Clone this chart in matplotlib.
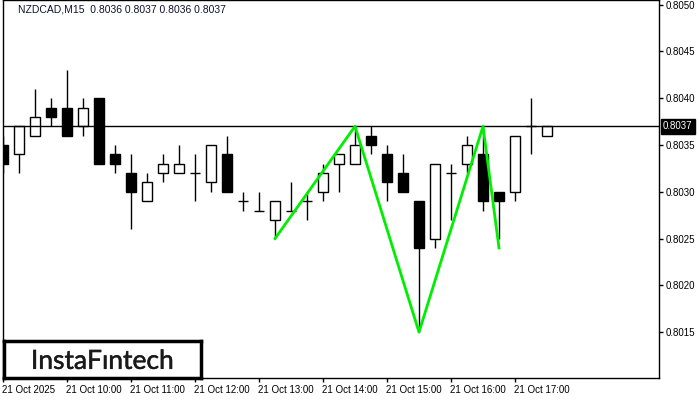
import matplotlib
matplotlib.use("Agg")
import matplotlib.pyplot as plt
from matplotlib.patches import Rectangle
import matplotlib.transforms as mtransforms
import matplotlib.patheffects as pe

opens  = [0.8035,0.8034,0.8036,0.8039,0.8039,0.8037,0.8040,0.8034,0.8032,0.8029,
          0.8032,0.8032,0.8032,0.8031,0.8034,0.8029,0.8028,0.8027,0.8028,0.8029,
          0.8030,0.8033,0.8033,0.8036,0.8034,0.8032,0.8029,0.8025,0.8032,0.8033,
          0.8034,0.8030,0.8030,0.8037,0.8036]
highs  = [0.8036,0.8037,0.8041,0.8040,0.8043,0.8040,0.8040,0.8035,0.8034,0.8032,
          0.8034,0.8035,0.8034,0.8035,0.8036,0.8030,0.8030,0.8029,0.8031,0.8030,
          0.8033,0.8034,0.8037,0.8037,0.8035,0.8034,0.8029,0.8033,0.8033,0.8036,
          0.8037,0.8030,0.8036,0.8040,0.8037]
lows   = [0.8032,0.8032,0.8036,0.8037,0.8036,0.8036,0.8033,0.8032,0.8026,0.8029,
          0.8031,0.8032,0.8029,0.8030,0.8030,0.8028,0.8028,0.8025,0.8028,0.8027,
          0.8029,0.8030,0.8033,0.8034,0.8029,0.8030,0.8015,0.8024,0.8027,0.8032,
          0.8028,0.8025,0.8029,0.8034,0.8036]
closes = [0.8033,0.8037,0.8038,0.8038,0.8036,0.8039,0.8033,0.8033,0.8030,0.8031,
          0.8033,0.8033,0.8032,0.8035,0.8030,0.8029,0.8028,0.8029,0.8028,0.8029,
          0.8032,0.8034,0.8035,0.8035,0.8031,0.8030,0.8024,0.8033,0.8032,0.8035,
          0.8029,0.8029,0.8036,0.8037,0.8037]

tick_idx = [0, 4, 8, 12, 16, 20, 24, 28, 32]
tick_labels = ["21 Oct 2025", "21 Oct 10:00", "21 Oct 11:00", "21 Oct 12:00",
               "21 Oct 13:00", "21 Oct 14:00", "21 Oct 15:00", "21 Oct 16:00",
               "21 Oct 17:00"]
ytick_vals = [0.8015, 0.8020, 0.8025, 0.8030, 0.8035, 0.8040, 0.8045, 0.8050]

pattern_idx = [17, 22, 26, 30, 31]
pattern_price = [0.8025, 0.8037, 0.8015, 0.8037, 0.8024]

current_price = 0.8037
title = "NZDCAD,M15  0.8036 0.8037 0.8036 0.8037"

plt.rcParams['font.family'] = ['Liberation Sans', 'DejaVu Sans']
fig = plt.figure(figsize=(7, 4), dpi=100)
ax = fig.add_axes([3/700, 22/400, 656/700, 378/400])
ax.set_xlim(0, 41)
ax.set_ylim(0.80101, 0.80505)

w = 0.65
for i, (o, h, l, c) in enumerate(zip(opens, highs, lows, closes)):
    ax.vlines(i, l, h, color='black', lw=1, zorder=2)
    if abs(c - o) < 1e-9:
        ax.hlines(o, i - w/2, i + w/2, color='black', lw=1, zorder=3)
    else:
        fc = 'white' if c > o else 'black'
        ax.add_patch(Rectangle((i - w/2, min(o, c)), w, abs(c - o),
                               facecolor=fc, edgecolor='black', lw=1, zorder=3))

ax.axhline(current_price, color='black', lw=1, zorder=4)
ax.plot(pattern_idx, pattern_price, color='#00ee00', lw=2, zorder=5)

ax.yaxis.tick_right()
ax.set_yticks(ytick_vals)
ax.set_yticklabels([f"{v:.4f}" for v in ytick_vals], fontsize=7)
ax.set_xticks(tick_idx)
ax.set_xticklabels(tick_labels, fontsize=7, ha='left')
ax.tick_params(axis='both', direction='out', length=3, width=1, pad=2, colors='black')
offset = mtransforms.ScaledTranslation(-1/100, 0, fig.dpi_scale_trans)
for lab in ax.get_xticklabels():
    lab.set_horizontalalignment('left')
    lab.set_transform(lab.get_transform() + offset)
for s in ax.spines.values():
    s.set_linewidth(1)

trans = mtransforms.blended_transform_factory(ax.transAxes, ax.transData)
ax.text(1.006, current_price, f"{current_price:.4f}", transform=trans, fontsize=7,
        color='white', va='center', ha='left',
        bbox=dict(boxstyle='square,pad=0.25', facecolor='black', edgecolor='black'),
        zorder=10, clip_on=False)

fig.text(18/700, 1 - 10/400, title, fontsize=7.5, color='#101030', va='center', ha='left')

logo_ax = fig.add_axes([4/700, 22/400, 197/700, 37/400])
logo_ax.set_xticks([]); logo_ax.set_yticks([])
logo_ax.set_facecolor('white')
for s in logo_ax.spines.values():
    s.set_linewidth(2.5)
logo_ax.text(0.5, 0.45, "InstaFıntech", fontsize=19, ha='center', va='center',
             color='#1a1a1a', family='Lato', fontweight='normal',
             path_effects=[pe.withStroke(linewidth=0.35, foreground='#1a1a1a')],
             transform=logo_ax.transAxes)

fig.savefig("out.png", dpi=100)
